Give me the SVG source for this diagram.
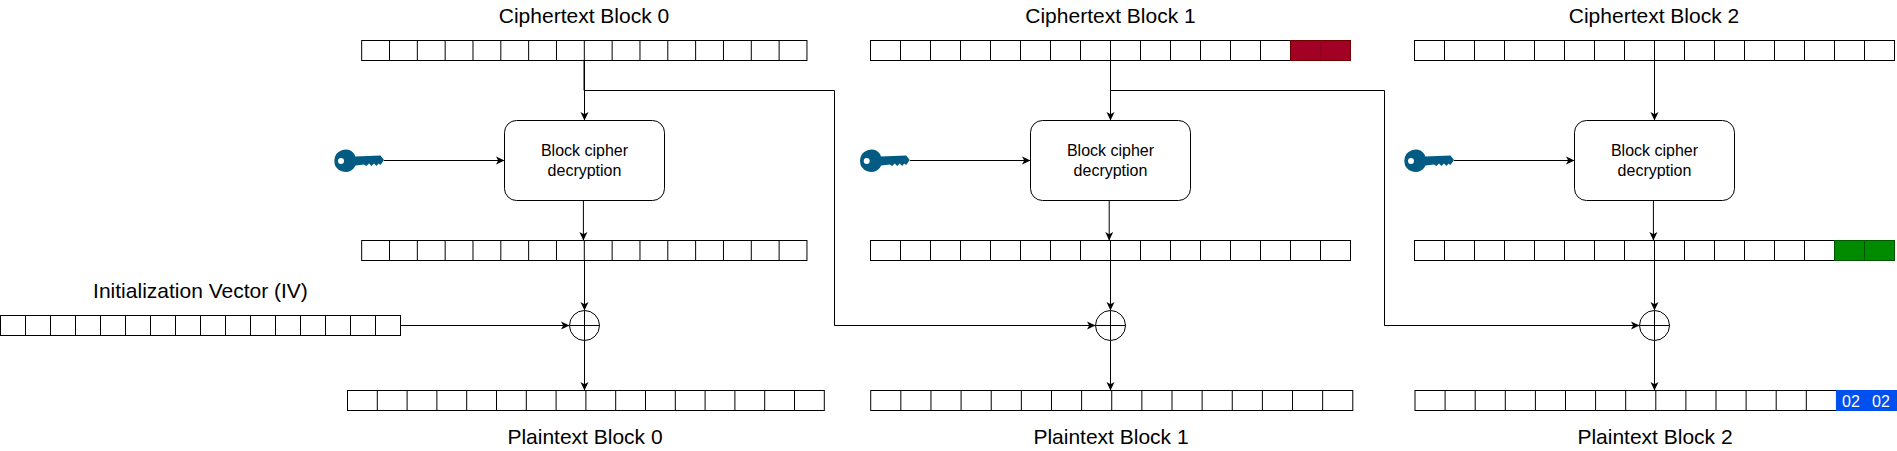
<svg xmlns="http://www.w3.org/2000/svg" width="1897" height="451" viewBox="0 0 1897 451">
<style>
text{font-family:"Liberation Sans",Arial,sans-serif;fill:#000;text-anchor:middle}
.t{font-size:21px}
.b{font-size:16px}
.w{font-size:16px;fill:#fff}
.c{fill:#fff;stroke:#000;stroke-width:1}
.d{fill:none;stroke:#000;stroke-width:1}
.l{fill:none;stroke:#000;stroke-width:1;marker-end:url(#a)}
.key{fill:#035a82;fill-rule:evenodd}
</style>
<defs>
<marker id="a" markerUnits="userSpaceOnUse" markerWidth="10" markerHeight="10" refX="8.5" refY="4.5" orient="auto"><path d="M8.5 4.5L0 0.5L2.2 4.5L0 8.5Z" fill="#000"/></marker>
<path id="k" d="M334.3 160.9a11.2 11.2 0 0 1 20-7l1 2.6L380.5 155.5L384 160L380.5 165L378.5 163.5L376.5 166L374 163.5L371.5 166L369 163.5L366.5 166L364 164.5L355.5 165.5L354 168a11.2 11.2 0 0 1-19.7-7.1ZM338 160.9a3 3 0 1 0 6 0a3 3 0 1 0-6 0Z"/>
</defs>
<g id="connectors">
<path class="d" d="M584 60.5V90.5H834.5V325.5H1095"/>
<path class="l" d="M584.5 60.5V120.5"/>
<path class="l" d="M1110.5 60.5V120.5"/>
<path class="d" d="M1110.5 90.5H1384.5V325.5H1639"/>
<path class="l" d="M1654.5 60.5V120.5"/>
<path class="l" d="M834.5 325.5H1095.5"/>
<path class="l" d="M1384.5 325.5H1639.5"/>
<path class="l" d="M384 160.5H504.5"/>
<path class="l" d="M910 160.5H1030.5"/>
<path class="l" d="M1454 160.5H1574.5"/>
<path class="l" d="M583.4 200.5V240.5"/>
<path class="l" d="M1109.2 200.5V240.5"/>
<path class="l" d="M1653.4 200.5V240.5"/>
<path class="l" d="M584.5 260.5V310.5"/>
<path class="l" d="M1110.5 260.5V310.5"/>
<path class="l" d="M1654.5 260.5V310.5"/>
<path class="l" d="M400.5 325.5H569.5"/>
<path class="l" d="M584.5 340.5V390.5"/>
<path class="l" d="M1110.5 340.5V390.5"/>
<path class="l" d="M1654.5 340.5V390.5"/>
</g>
<g id="ciphertext-0">
<text class="t" x="584" y="23">Ciphertext Block 0</text>
<rect class="c" x="361.67" y="40.5" width="445.28" height="20"/>
<path class="d" d="M389.5 40.5v20M417.33 40.5v20M445.16 40.5v20M472.99 40.5v20M500.82 40.5v20M528.65 40.5v20M556.48 40.5v20M584.31 40.5v20M612.14 40.5v20M639.97 40.5v20M667.8 40.5v20M695.63 40.5v20M723.46 40.5v20M751.29 40.5v20M779.12 40.5v20"/>
</g>
<g id="ciphertext-1">
<text class="t" x="1110.5" y="23">Ciphertext Block 1</text>
<rect class="c" x="870.5" y="40.5" width="480" height="20"/>
<path class="d" d="M900.5 40.5v20M930.5 40.5v20M960.5 40.5v20M990.5 40.5v20M1020.5 40.5v20M1050.5 40.5v20M1080.5 40.5v20M1110.5 40.5v20M1140.5 40.5v20M1170.5 40.5v20M1200.5 40.5v20M1230.5 40.5v20M1260.5 40.5v20"/>
<rect x="1290.5" y="40.5" width="60" height="20" fill="#a20025" stroke="#6f0000"/>
<path d="M1320.5 40.5v20" fill="none" stroke="#8a0020"/>
</g>
<g id="ciphertext-2">
<text class="t" x="1654" y="23">Ciphertext Block 2</text>
<rect class="c" x="1414.5" y="40.5" width="480" height="20"/>
<path class="d" d="M1444.5 40.5v20M1474.5 40.5v20M1504.5 40.5v20M1534.5 40.5v20M1564.5 40.5v20M1594.5 40.5v20M1624.5 40.5v20M1654.5 40.5v20M1684.5 40.5v20M1714.5 40.5v20M1744.5 40.5v20M1774.5 40.5v20M1804.5 40.5v20M1834.5 40.5v20M1864.5 40.5v20"/>
</g>
<g id="key-0"><use href="#k" class="key"/></g>
<g id="key-1"><use href="#k" class="key" x="525.7"/></g>
<g id="key-2"><use href="#k" class="key" x="1070"/></g>
<g id="cipher-0">
<rect class="c" x="504.5" y="120.5" width="160" height="80" rx="12" ry="12"/>
<text class="b" x="584.5" y="156">Block cipher</text>
<text class="b" x="584.5" y="176">decryption</text>
</g>
<g id="cipher-1">
<rect class="c" x="1030.5" y="120.5" width="160" height="80" rx="12" ry="12"/>
<text class="b" x="1110.5" y="156">Block cipher</text>
<text class="b" x="1110.5" y="176">decryption</text>
</g>
<g id="cipher-2">
<rect class="c" x="1574.5" y="120.5" width="160" height="80" rx="12" ry="12"/>
<text class="b" x="1654.5" y="156">Block cipher</text>
<text class="b" x="1654.5" y="176">decryption</text>
</g>
<g id="intermediate-0">
<rect class="c" x="361.67" y="240.5" width="445.28" height="20"/>
<path class="d" d="M389.5 240.5v20M417.33 240.5v20M445.16 240.5v20M472.99 240.5v20M500.82 240.5v20M528.65 240.5v20M556.48 240.5v20M584.31 240.5v20M612.14 240.5v20M639.97 240.5v20M667.8 240.5v20M695.63 240.5v20M723.46 240.5v20M751.29 240.5v20M779.12 240.5v20"/>
</g>
<g id="intermediate-1">
<rect class="c" x="870.5" y="240.5" width="480" height="20"/>
<path class="d" d="M900.5 240.5v20M930.5 240.5v20M960.5 240.5v20M990.5 240.5v20M1020.5 240.5v20M1050.5 240.5v20M1080.5 240.5v20M1110.5 240.5v20M1140.5 240.5v20M1170.5 240.5v20M1200.5 240.5v20M1230.5 240.5v20M1260.5 240.5v20M1290.5 240.5v20M1320.5 240.5v20"/>
</g>
<g id="intermediate-2">
<rect class="c" x="1414.5" y="240.5" width="480" height="20"/>
<path class="d" d="M1444.5 240.5v20M1474.5 240.5v20M1504.5 240.5v20M1534.5 240.5v20M1564.5 240.5v20M1594.5 240.5v20M1624.5 240.5v20M1654.5 240.5v20M1684.5 240.5v20M1714.5 240.5v20M1744.5 240.5v20M1774.5 240.5v20M1804.5 240.5v20"/>
<rect x="1834.5" y="240.5" width="60" height="20" fill="#008a00" stroke="#005700"/>
<path d="M1864.5 240.5v20" fill="none" stroke="#005700"/>
</g>
<g id="iv">
<text class="t" x="200.5" y="298">Initialization Vector (IV)</text>
<rect class="c" x="0.5" y="315.5" width="400" height="20"/>
<path class="d" d="M25.5 315.5v20M50.5 315.5v20M75.5 315.5v20M100.5 315.5v20M125.5 315.5v20M150.5 315.5v20M175.5 315.5v20M200.5 315.5v20M225.5 315.5v20M250.5 315.5v20M275.5 315.5v20M300.5 315.5v20M325.5 315.5v20M350.5 315.5v20M375.5 315.5v20"/>
</g>
<g id="xor-0"><circle class="c" cx="584.5" cy="325.5" r="15"/><path class="d" d="M569.5 325.5h30M584.5 310.5v30"/></g>
<g id="xor-1"><circle class="c" cx="1110.5" cy="325.5" r="15"/><path class="d" d="M1095.5 325.5h30M1110.5 310.5v30"/></g>
<g id="xor-2"><circle class="c" cx="1654.5" cy="325.5" r="15"/><path class="d" d="M1639.5 325.5h30M1654.5 310.5v30"/></g>
<g id="plaintext-0">
<rect class="c" x="347.5" y="390.5" width="476.8" height="20"/>
<path class="d" d="M377.3 390.5v20M407.1 390.5v20M436.9 390.5v20M466.7 390.5v20M496.5 390.5v20M526.3 390.5v20M556.1 390.5v20M585.9 390.5v20M615.7 390.5v20M645.5 390.5v20M675.3 390.5v20M705.1 390.5v20M734.9 390.5v20M764.7 390.5v20M794.5 390.5v20"/>
<text class="t" x="585" y="444">Plaintext Block 0</text>
</g>
<g id="plaintext-1">
<rect class="c" x="870.7" y="390.5" width="482.08" height="20"/>
<path class="d" d="M900.83 390.5v20M930.96 390.5v20M961.09 390.5v20M991.22 390.5v20M1021.35 390.5v20M1051.48 390.5v20M1081.61 390.5v20M1111.74 390.5v20M1141.87 390.5v20M1172 390.5v20M1202.13 390.5v20M1232.26 390.5v20M1262.39 390.5v20M1292.52 390.5v20M1322.65 390.5v20"/>
<text class="t" x="1111" y="444">Plaintext Block 1</text>
</g>
<g id="plaintext-2">
<rect class="c" x="1415" y="390.5" width="481.6" height="20"/>
<path class="d" d="M1445.1 390.5v20M1475.2 390.5v20M1505.3 390.5v20M1535.4 390.5v20M1565.5 390.5v20M1595.6 390.5v20M1625.7 390.5v20M1655.8 390.5v20M1685.9 390.5v20M1716 390.5v20M1746.1 390.5v20M1776.2 390.5v20M1806.3 390.5v20"/>
<rect x="1836.4" y="390.5" width="60.2" height="20" fill="#0050ef" stroke="#0050ef"/>
<text class="w" x="1851" y="407">02</text>
<text class="w" x="1881" y="407">02</text>
<text class="t" x="1655" y="444">Plaintext Block 2</text>
</g>
</svg>
